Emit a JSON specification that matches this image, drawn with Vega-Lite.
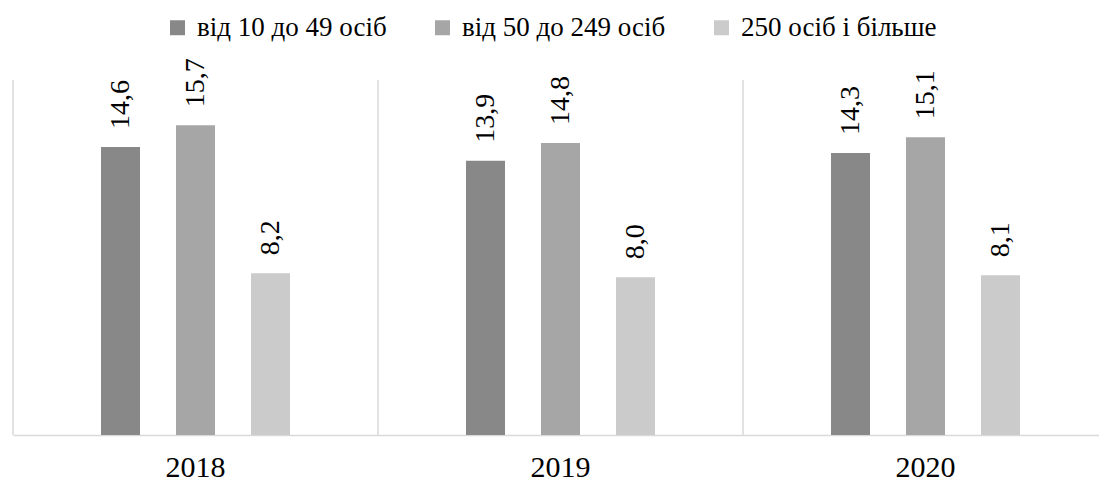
{
  "$schema": "https://vega.github.io/schema/vega-lite/v6.json",
  "width": 1086,
  "height": 355,
  "autosize": {"type": "none"},
  "padding": {"left": 13, "top": 80, "right": 0, "bottom": 48},
  "background": "white",
  "config": {
    "view": {"stroke": null},
    "font": "Times New Roman, Liberation Serif, serif",
    "locale": {"number": {"decimal": ",", "thousands": " ", "grouping": [3], "currency": ["", ""]}}
  },
  "datasets": {
    "bars": [
      {"year": "2018", "group": "від 10 до 49 осіб", "value": 14.6},
      {"year": "2018", "group": "від 50 до 249 осіб", "value": 15.7},
      {"year": "2018", "group": "250 осіб і більше", "value": 8.2},
      {"year": "2019", "group": "від 10 до 49 осіб", "value": 13.9},
      {"year": "2019", "group": "від 50 до 249 осіб", "value": 14.8},
      {"year": "2019", "group": "250 осіб і більше", "value": 8.0},
      {"year": "2020", "group": "від 10 до 49 осіб", "value": 14.3},
      {"year": "2020", "group": "від 50 до 249 осіб", "value": 15.1},
      {"year": "2020", "group": "250 осіб і більше", "value": 8.1}
    ],
    "years": [{"year": "2018"}, {"year": "2019"}, {"year": "2020"}]
  },
  "layer": [
    {
      "data": {"name": "years"},
      "mark": {"type": "rule", "color": "#d9d9d9", "strokeWidth": 1.5},
      "encoding": {
        "x": {"field": "year", "type": "nominal", "bandPosition": 0,
              "scale": {"domain": ["2018", "2019", "2020"], "range": [0, 1095], "paddingInner": 0, "paddingOuter": 0},
              "axis": {"title": null, "labelAngle": 0, "ticks": false, "domainColor": "#d9d9d9", "domainWidth": 1.5,
                       "labelFontSize": 30, "labelColor": "black", "labelPadding": 17}}
      }
    },
    {
      "data": {"name": "bars"},
      "mark": {"type": "bar"},
      "encoding": {
        "x": {"field": "year", "type": "nominal"},
        "xOffset": {"field": "group", "type": "nominal",
                    "scale": {"domain": ["від 10 до 49 осіб", "від 50 до 249 осіб", "250 осіб і більше"], "range": [88, 277], "paddingInner": 0.48, "paddingOuter": 0}},
        "y": {"field": "value", "type": "quantitative", "scale": {"domain": [0, 18], "nice": false, "zero": true}, "axis": null},
        "color": {"field": "group", "type": "nominal",
                  "scale": {"domain": ["від 10 до 49 осіб", "від 50 до 249 осіб", "250 осіб і більше"], "range": ["#888888", "#a6a6a6", "#cbcbcb"]},
                  "legend": {"title": null, "orient": "none", "direction": "horizontal", "legendX": 151, "legendY": -66,
                             "symbolType": "square", "symbolSize": 225, "symbolStrokeWidth": 0, "symbolOpacity": 1,
                             "labelFontSize": 27, "labelColor": "black", "labelOffset": 6,
                             "columnPadding": 42, "padding": 0, "labelLimit": 400}}
      }
    },
    {
      "data": {"name": "bars"},
      "mark": {"type": "text", "angle": 270, "align": "left", "baseline": "middle", "dx": 18, "fontSize": 28, "color": "black"},
      "encoding": {
        "x": {"field": "year", "type": "nominal"},
        "xOffset": {"field": "group", "type": "nominal"},
        "y": {"field": "value", "type": "quantitative"},
        "text": {"field": "value", "type": "quantitative", "format": ".1f"}
      }
    }
  ]
}
